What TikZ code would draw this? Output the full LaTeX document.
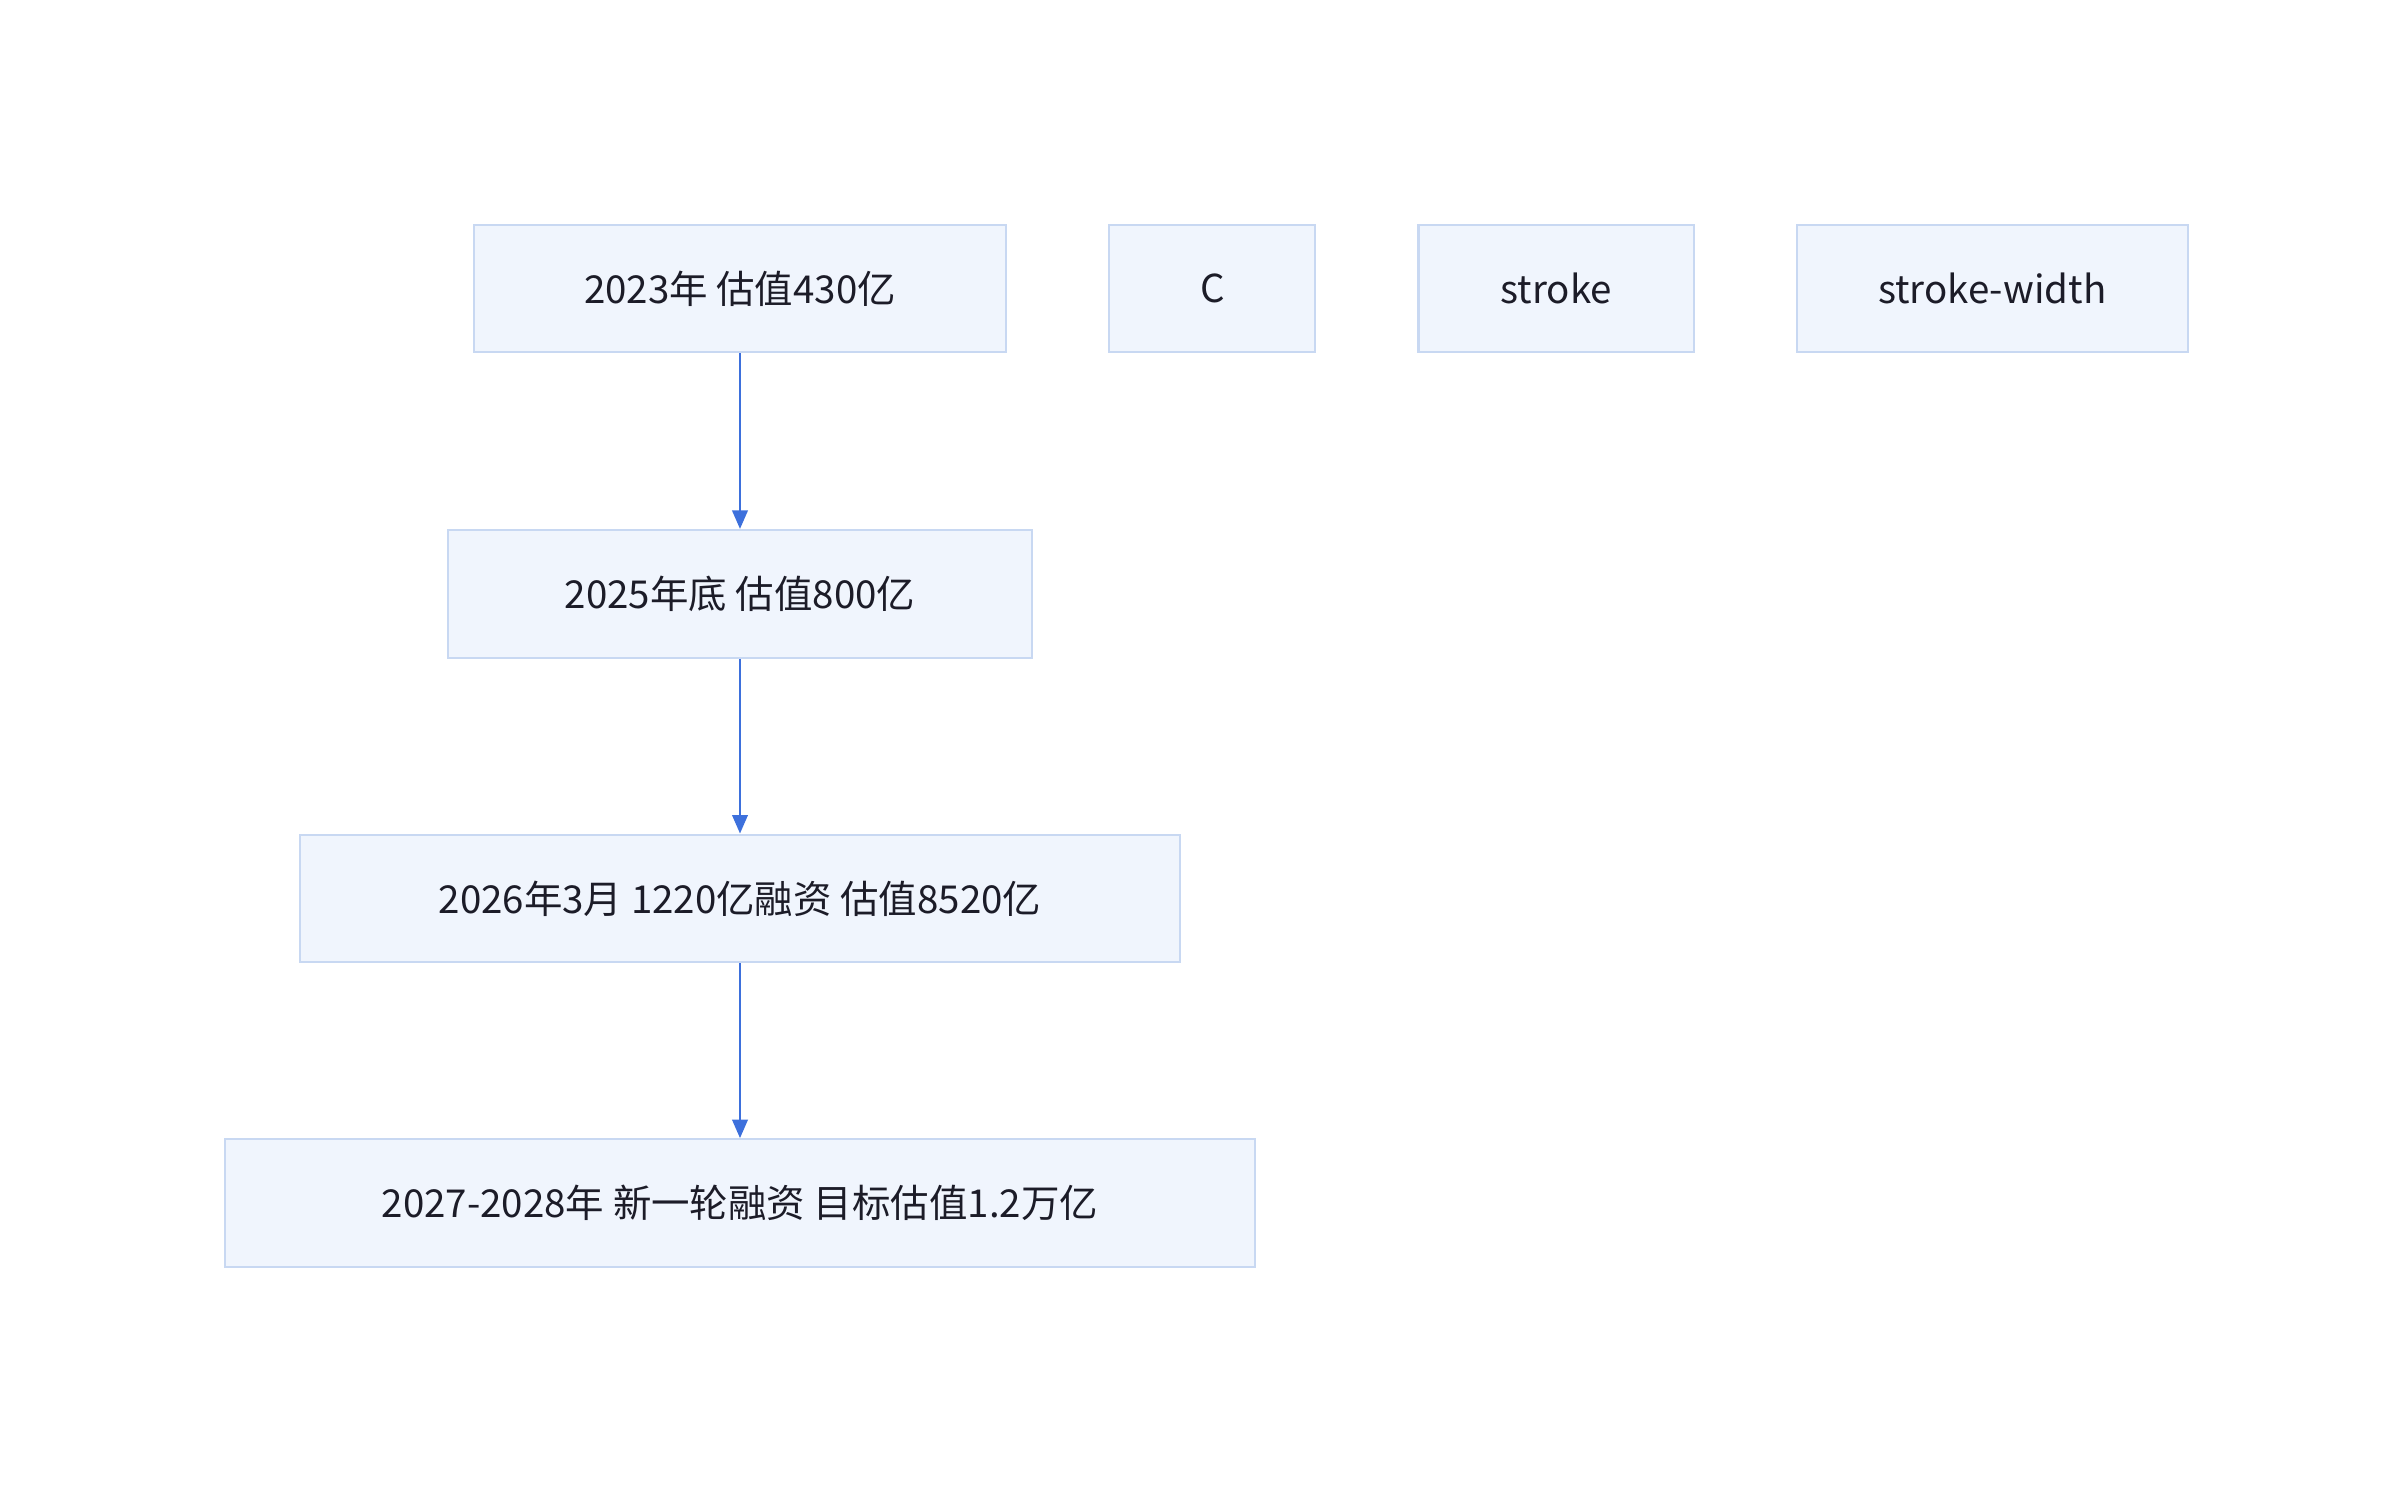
\documentclass[tikz,border=0pt]{standalone}
\usepackage{fontspec}
\setmainfont{Noto Sans CJK SC}
\usetikzlibrary{arrows.meta}
\definecolor{boxfill}{HTML}{F0F5FD}
\definecolor{boxline}{HTML}{C8D8F2}
\definecolor{arrowblue}{HTML}{3D70DC}
\definecolor{txt}{HTML}{1C1C28}
\tikzset{
  stage/.style={draw=boxline, fill=boxfill, line width=0.7pt, text=txt,
    minimum height=41.5pt, inner sep=0pt, font=\fontsize{12.5}{15}\selectfont},
  flow/.style={draw=arrowblue, line width=0.8pt, -{Triangle[length=6pt,width=5pt]}}
}
\begin{document}
\begin{tikzpicture}[x=0.5pt, y=-0.5pt]
    \useasboundingbox (0,0) rectangle (1560,965);
    % timeline column
    \node[stage, minimum width=173pt] (s2023) at (481,187.5) {2023年 估值430亿};
    \node[stage, minimum width=190pt] (s2025) at (481,386) {2025年底 估值800亿};
    \node[stage, minimum width=286pt] (s2026) at (481,584) {2026年3月 1220亿融资 估值8520亿};
    \node[stage, minimum width=335pt] (s2027) at (481,782) {2027-2028年 新一轮融资 目标估值1.2万亿};
    % stray nodes in the top row
    \node[stage, minimum width=67pt] (sc) at (788,187.5) {C};
    \node[stage, minimum width=89.5pt] (sstroke) at (1011.5,187.5) {stroke};
    \node[stage, minimum width=127pt] (swidth) at (1295,187.5) {stroke-width};

    \draw[flow] (s2023) -- (s2025);
    \draw[flow] (s2025) -- (s2026);
    \draw[flow] (s2026) -- (s2027);
\end{tikzpicture}
\end{document}
